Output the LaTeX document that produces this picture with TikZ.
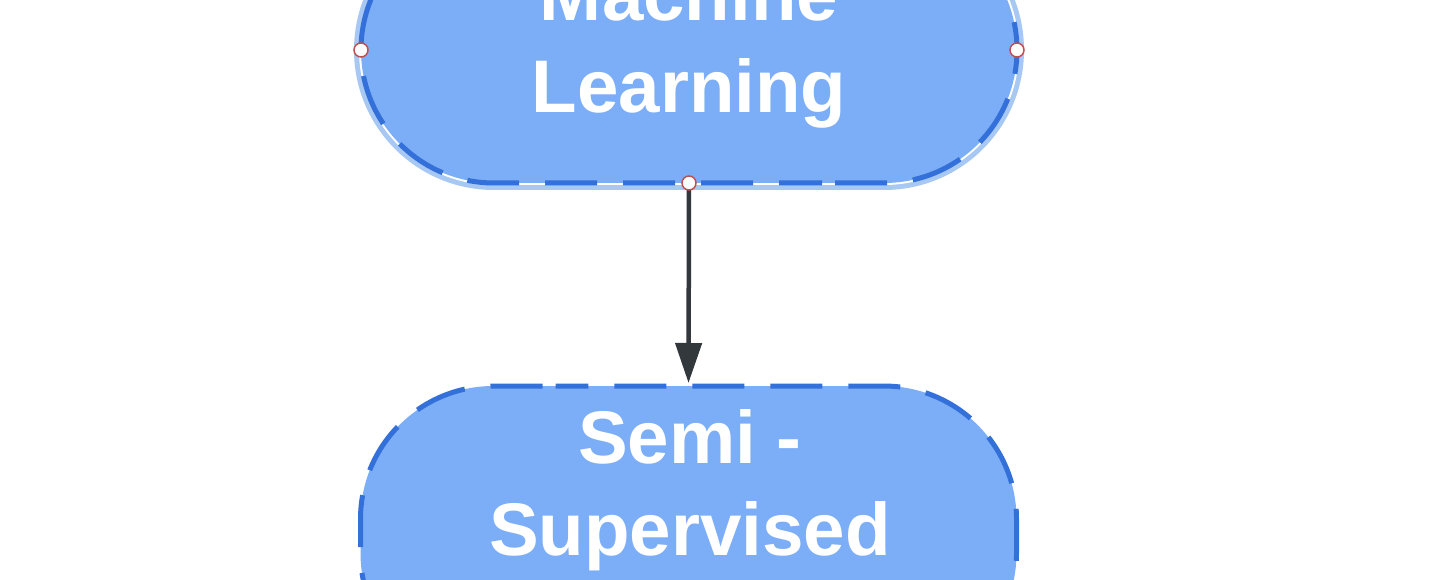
\documentclass[tikz,border=0pt]{standalone}
\usepackage{fontspec}
\setmainfont{Liberation Sans}
\usetikzlibrary{arrows.meta}
\definecolor{mlfill}{HTML}{7CAEF7}
\definecolor{mldash}{HTML}{3370D9}
\definecolor{selblue}{HTML}{A8C8F4}
\definecolor{arrowgray}{HTML}{33383D}
\definecolor{handlered}{HTML}{C0504D}
\tikzset{
  pill/.style={rectangle, rounded corners=133pt, fill=mlfill, minimum width=656pt, outer sep=0pt, inner sep=0pt},
  selring/.style={rectangle, rounded corners=140pt, fill=selblue, minimum width=670pt, minimum height=280pt, inner sep=0pt, outer sep=0pt},
  whiteline/.style={preaction={draw=white, line width=4pt}},
  dashborder/.style={draw=mldash, line width=5pt, rounded corners=133pt, dash pattern=on 52pt off 26pt, dash phase=65pt},
  pilltext/.style={text=white, font=\fontsize{74.5}{91.5}\selectfont\bfseries, align=center, inner sep=0pt},
  handle/.style={circle, draw=handlered, fill=white, line width=1.5pt, minimum size=14pt, inner sep=0pt},
  flow/.style={draw=arrowgray, line width=4.5pt, shorten >=3pt, -{Triangle[length=40pt,width=26pt]}}
}
\begin{document}
\begin{tikzpicture}[x=1pt,y=-1pt]
\useasboundingbox (0,0) rectangle (1440,580);
\fill[white] (0,0) rectangle (1440,580);
% top node (selected)
\node[selring] (sel) at (689,50) {};
\node[pill, minimum height=266pt, whiteline] (ml) at (689,50) {};
\draw[dashborder] (ml.south) -- (ml.south east) -- (ml.north east) -- (ml.north west) -- (ml.south west) -- cycle;
\node[pilltext] (mltext) at (689,47.5) {Machine\\Learning};
% bottom node
\node[pill, minimum height=300pt] (ssl) at (688.5,536) {};
\draw[dashborder] (ssl.north) -- (ssl.north west) -- (ssl.south west) -- (ssl.south east) -- (ssl.north east) -- cycle;
\node[pilltext] (ssltext) at (690,490) {Semi -\\Supervised};
% connector
\draw[flow] (ml.south) -- (ssl.north);
% selection handles
\node[handle] (hw) at (ml.west) {};
\node[handle] (he) at (ml.east) {};
\node[handle] (hs) at (ml.south) {};
\end{tikzpicture}
\end{document}
